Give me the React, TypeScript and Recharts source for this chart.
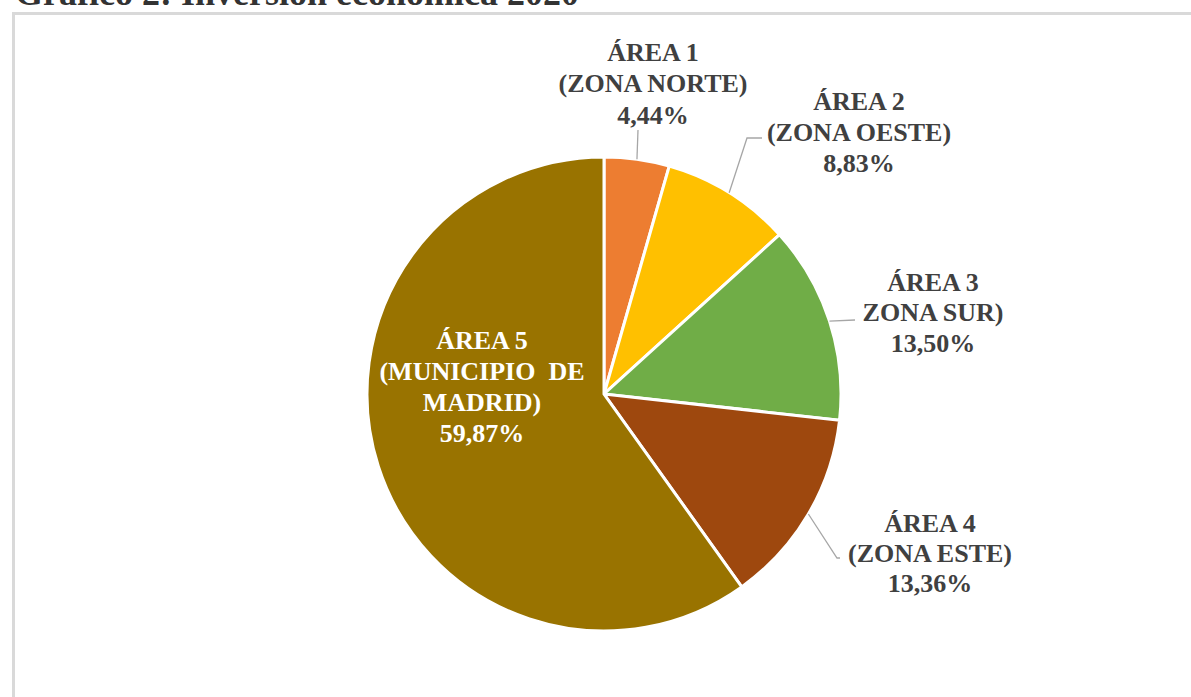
import { PieChart, Pie, Cell } from 'recharts';

// shares of the 2020 investment by area (%)
const areaLabels = [
  ['ÁREA 1', '(ZONA NORTE)'],
  ['ÁREA 2', '(ZONA OESTE)'],
  ['ÁREA 3', 'ZONA SUR)'],
  ['ÁREA 4', '(ZONA ESTE)'],
  ['ÁREA 5', '(MUNICIPIO  DE', 'MADRID)'],
];
const shares = [4.44, 8.83, 13.5, 13.36, 59.87];
const colors = ['#ED7D31', '#FFC000', '#70AD47', '#9E480E', '#997300'];

const data = shares.map((v, i) => ({ name: areaLabels[i].join(' '), value: v }));

// label placement relative to the pie centre (text centre x, first line y, line height)
const labelPos = [
  { dx: 49, dy: -342, lh: 31.5, inside: false },
  { dx: 255, dy: -293, lh: 31, inside: false },
  { dx: 329, dy: -112, lh: 30.5, inside: false },
  { dx: 326, dy: 129, lh: 30, inside: false },
  { dx: -122, dy: -54, lh: 31, inside: true },
];
// leader line bends, relative to the pie centre
const leaders = [
  [[34, -264]],
  [[143, -256], [158, -256]],
  [[251, -74]],
  [[233, 164], [236, 164]],
  [],
];

const RAD = Math.PI / 180;
const fmt = (v: number) => v.toFixed(2).replace('.', ',') + '%';

const renderLabel = (props: any) => {
  const { cx, cy, midAngle, outerRadius, index, value } = props;
  const pos = labelPos[index];
  const sx = cx + outerRadius * Math.cos(-midAngle * RAD);
  const sy = cy + outerRadius * Math.sin(-midAngle * RAD);
  const pts = [[sx, sy], ...leaders[index].map(([x, y]) => [cx + x, cy + y])];
  const lines = [...areaLabels[index], fmt(value)];
  return (
    <g key={'lbl' + index}>
      {pts.length > 1 && (
        <polyline
          points={pts.map((p) => p.join(',')).join(' ')}
          fill='none'
          stroke='#a6a6a6'
          strokeWidth={1.3}
        />
      )}
      <text
        x={cx + pos.dx}
        y={cy + pos.dy}
        textAnchor='middle'
        fill={pos.inside ? '#ffffff' : '#404040'}
        fontFamily='"Liberation Serif", serif'
        fontWeight='bold'
        fontSize={26}
        style={{ whiteSpace: 'pre' }}
      >
        {lines.map((l, i) => (
          <tspan key={i} x={cx + pos.dx} y={cy + pos.dy + i * pos.lh} dominantBaseline='central'>
            {l}
          </tspan>
        ))}
      </text>
    </g>
  );
};

const App = () => {
  return (
    <div style={{ position: 'absolute', left: 0, top: 0, width: 1191, height: 697, overflow: 'hidden', background: '#fff' }}>
      <svg width={1191} height={20} style={{ position: 'absolute', left: 0, top: 0 }}>
        <text x={15} y={5} fontFamily='"Liberation Serif", serif' fontWeight='bold' fontSize={36} fill='#333333'>
          Gráfico 2: Inversión económica 2020
        </text>
      </svg>
      <div
        style={{
          position: 'absolute',
          left: 12,
          top: 12,
          width: 1200,
          height: 720,
          border: '3px solid #d9d9d9',
          boxSizing: 'border-box',
        }}
      />
      <div style={{ position: 'absolute', left: 0, top: 0 }}>
        <PieChart width={1191} height={697} margin={{ top: 0, right: 0, bottom: 0, left: 0 }}>
          <Pie
            data={data}
            dataKey='value'
            cx={604}
            cy={394}
            outerRadius={237}
            startAngle={90}
            endAngle={-270}
            stroke='#ffffff'
            strokeWidth={3}
            label={renderLabel}
            labelLine={false}
            isAnimationActive={false}
          >
            {data.map((d, i) => (
              <Cell key={d.name} fill={colors[i]} />
            ))}
          </Pie>
        </PieChart>
      </div>
    </div>
  );
};

export default App;
